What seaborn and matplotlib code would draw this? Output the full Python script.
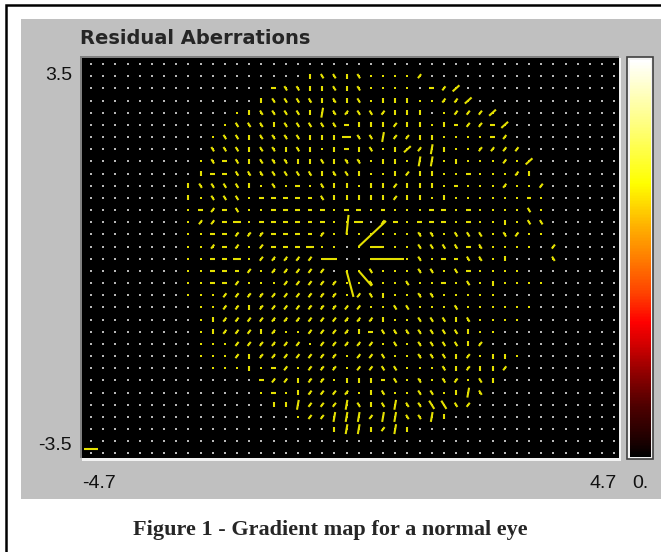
import numpy as np
import matplotlib
matplotlib.use("Agg")
import matplotlib.pyplot as plt
import seaborn as sns
import pandas as pd
from matplotlib.collections import LineCollection
from matplotlib.colors import LinearSegmentedColormap
from matplotlib.patches import Rectangle

# ---------------- data ----------------
X_RANGE = (-4.7, 4.7)
Y_RANGE = (-3.5, 3.5)
x_tick_labels = ["-4.7", "4.7"]
y_tick_labels = ["3.5", "-3.5"]
cbar_label = "0."
title = "Residual Aberrations"
caption = "Figure 1 - Gradient map for a normal eye"

# sampling grid of the map (44 columns x 33 rows)
n_cols, n_rows = 44, 33
grid_x0, grid_y0, grid_step = -4.5425, 3.395, 0.2130

# gradient glyph read per grid cell: (row, first column, glyphs)
# o = ~zero, | - / \ = short vectors, I = A V = longer vectors, . = outside pupil
glyph_rows = [
    (1, 18, r"|\\|\oooo/"),
    (2, 15, r"-\\||\|\oooo.-/A"),
    (3, 14, r"|\\\\|\|\o|||oo//A"),
    (4, 12, r"o|\\\\|I\/\\/|||.o///A"),
    (5, 11, r"o\\\|\\\\\-|||/||o|-//-A"),
    (6, 10, r"o\\|\\\\|||=\\I//||oooo-/"),
    (7, 10, r"\\\|\\|\|o|-|\o|A/I|oo////"),
    (8, 9, r"o\-\|\\\||\|\\o||oIIo|ooo/oA"),
    (9, 9, r"|--\\\\\\\|\\|oo|/||oo-ooo/|"),
    (10, 8, r"|\\\\|o\o-o\||o||/|||o-ooo/oo/"),
    (11, 8, r"|o\\\o-----\|||||/||o|oooooo-o"),
    (12, 8, r"o-/-\oo-----o--o-ooo--o-oooo\o"),
    (13, 8, r"o//-=o------oo=./-o---o-oo|o\\."),
    (14, 8, r"oo--///----/ooooooo\\o\\\o\/oo"),
    (15, 8, r"oo/-/o/---=oo.ooooo\\\\-\oooo./"),
    (16, 8, r"oo--=o/////oo..oooo\o--\\o|...\."),
    (17, 8, r"oo---/o/////.oo\ooo\\o\-oooo"),
    (18, 8, r"oo--/ooo/////oo\oo\oo-o\o|oooo"),
    (19, 8, r"ooo//////////o/\|oo\\ooooo"),
    (20, 9, r"oo//|/////////oo\\ooo\oooooo"),
    (21, 9, r"o|/////////////|oo\\\|\oooo"),
    (22, 9, r"o|///|/oo////|-\\\\\\\|oo"),
    (23, 9, r"ooo//////o/////o\o\\\\|/"),
    (24, 9, r"ooo/|///////o//\oo\\\|/o||o"),
    (25, 10, r"ooo|o-/o///o//\\ooo\|/||/"),
    (26, 14, r"-//|//o|||-\o\o\/o\|"),
    (27, 14, r"o-o|////o|\oo\\o|I\."),
    (28, 15, r"||I///I\|\I\\VV\/"),
    (29, 17, r"o//III/II\\I|"),
    (30, 20, r"|II|/I|"),
]

# glyph -> (angle in degrees, magnitude)
glyph_vectors = {
    "|": (90, 0.088), "I": (80, 0.175),
    "-": (0, 0.085), "=": (0, 0.15),
    "/": (52, 0.09), "A": (42, 0.16),
    "\\": (-58, 0.09), "V": (-58, 0.17),
}

# large residual vectors near the pupil centre: (col, row, dx, dy)
big_cols = [22, 23, 23, 21, 21, 22, 19]
big_rows = [15, 15, 16, 14, 17, 17, 16]
big_dx = [0.478, 0.228, 0.578, 0.035, 0.122, 0.228, 0.262]
big_dy = [0.448, 0.0, 0.0, 0.341, -0.455, -0.262, 0.0]

# reference scale bar (bottom-left)
scale_bar_x = [-4.665, -4.42]
scale_bar_y = [-3.343, -3.343]

# colour scale stops (fraction, colour)
cbar_stops = [(0.0, "#000000"), (0.046, "#200000"), (0.13, "#500000"),
              (0.21, "#900000"), (0.28, "#d00000"), (0.34, "#ff0000"),
              (0.41, "#ff4000"), (0.505, "#ff8000"), (0.58, "#ffb000"),
              (0.69, "#ffff00"), (0.84, "#ffff80"), (1.0, "#ffffff")]

# ---------------- build table ----------------
glyph_grid = [["."] * n_cols for _ in range(n_rows)]
for r, c0, s in glyph_rows:
    for k, ch in enumerate(s):
        glyph_grid[r][c0 + k] = ch

recs = []
for r in range(n_rows):
    for c in range(n_cols):
        recs.append(dict(col=c, row=r,
                         x=grid_x0 + c * grid_step,
                         y=grid_y0 - r * grid_step,
                         glyph=glyph_grid[r][c]))
df = pd.DataFrame(recs)
df["inside"] = df["glyph"] != "."

# ---------------- figure ----------------
W, H = 661, 552
sns.set_theme(style="white")
plt.rcParams["font.family"] = ["Liberation Sans", "DejaVu Sans"]
fig = plt.figure(figsize=(W / 100, H / 100), dpi=100)
fig.patch.set_facecolor("white")


def frect(x0, y0, x1, y1):
    return [x0 / W, 1 - y1 / H, (x1 - x0) / W, (y1 - y0) / H]


def add_rect(x0, y0, x1, y1, z, **kw):
    l, b, w, h = frect(x0, y0, x1, y1)
    fig.patches.append(Rectangle((l, b), w, h, transform=fig.transFigure,
                                 zorder=z, **kw))


add_rect(6, 5, 700, 600, -10, fill=False, edgecolor="black", lw=1.8)
add_rect(21, 19, 700, 499, -9, facecolor="#c0c0c0", edgecolor="none")
add_rect(80, 56, 619, 458, -8, facecolor="#808080", edgecolor="none")
add_rect(82, 58, 621, 461, -7, facecolor="#f2f2f2", edgecolor="none")
add_rect(627, 57, 653, 459, -6, facecolor="#f2f2f2", edgecolor="#404040", lw=1.2)

ax = fig.add_axes(frect(82, 58, 619, 458))
ax.set_facecolor("black")

outside = df[~df["inside"]]
inside = df[df["inside"]]
sns.scatterplot(data=outside, x="x", y="y", color="#b8b8b8", marker="s",
                s=1.5, linewidth=0, ax=ax, legend=False)
sns.scatterplot(data=inside, x="x", y="y", color="#e4e000", marker="s",
                s=2.8, linewidth=0, ax=ax, legend=False)

segs = []
for _, rw in inside.iterrows():
    g = rw["glyph"]
    if g in glyph_vectors:
        ang, mag = glyph_vectors[g]
        dx = 0.5 * mag * np.cos(np.radians(ang))
        dy = 0.5 * mag * np.sin(np.radians(ang))
        segs.append([(rw["x"] - dx, rw["y"] - dy), (rw["x"] + dx, rw["y"] + dy)])
for c, r, dx, dy in zip(big_cols, big_rows, big_dx, big_dy):
    x0 = grid_x0 + c * grid_step
    y0 = grid_y0 - r * grid_step
    segs.append([(x0, y0), (x0 + dx, y0 + dy)])
segs.append(list(zip(scale_bar_x, scale_bar_y)))
ax.add_collection(LineCollection(segs, colors="#e4e000", linewidths=1.5,
                                 capstyle="butt"))

ax.set_xlim(*X_RANGE)
ax.set_ylim(*Y_RANGE)
ax.set_xticks([])
ax.set_yticks([])
ax.set_xlabel("")
ax.set_ylabel("")
for sp in ax.spines.values():
    sp.set_visible(False)

# colour bar
cmap = LinearSegmentedColormap.from_list("resid", cbar_stops)
cax = fig.add_axes(frect(630, 60, 651, 457))
grad = np.linspace(1, 0, 256)[:, None]
sns.heatmap(grad, cmap=cmap, vmin=0, vmax=1, cbar=False, ax=cax,
            xticklabels=False, yticklabels=False)
for sp in cax.spines.values():
    sp.set_visible(False)

# texts
fig.text(80 / W, 1 - 38 / H, title, fontsize=14, fontweight="bold",
         family=["DejaVu Sans"], ha="left", va="center")
lab = dict(fontsize=14, va="center", color="#111111")
fig.text(72 / W, 1 - 75 / H, y_tick_labels[0], ha="right", **lab)
fig.text(72 / W, 1 - 445 / H, y_tick_labels[1], ha="right", **lab)
fig.text(82 / W, 1 - 483 / H, x_tick_labels[0], ha="left", **lab)
fig.text(617 / W, 1 - 483 / H, x_tick_labels[1], ha="right", **lab)
fig.text(632 / W, 1 - 483 / H, cbar_label, ha="left", **lab)
fig.text(330 / W, 1 - 530 / H, caption, fontsize=16, fontweight="bold",
         family=["Liberation Serif", "DejaVu Serif"], ha="center", va="center")

fig.savefig("out.png", dpi=100, facecolor="white")
